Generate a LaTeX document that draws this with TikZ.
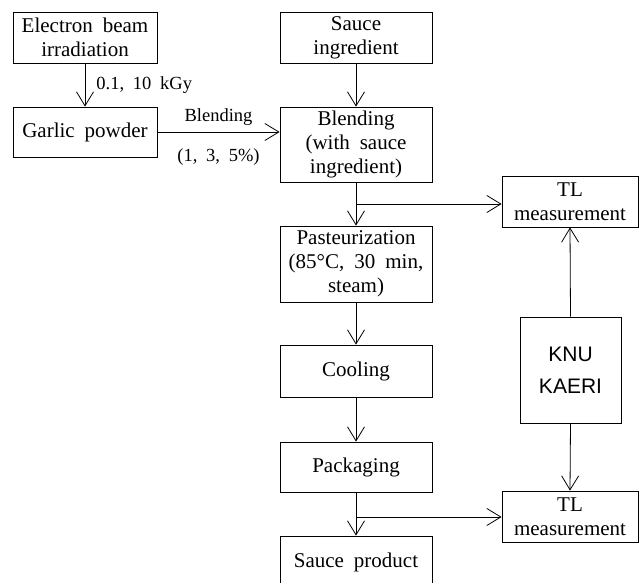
\documentclass[tikz,border=0pt]{standalone}
\usepackage{fontspec}
\setmainfont{Liberation Serif}[WordSpace=1.9]
\newfontfamily\labelsans{Liberation Sans}
\usetikzlibrary{arrows.meta}
\begin{document}
\begin{tikzpicture}[x=1pt,y=-1pt,
  box/.style={draw, line width=0.8pt, inner sep=0pt, align=center,
    font=\fontsize{21}{24}\selectfont},
  flow/.style={draw, line width=0.8pt, -{Straight Barb[length=14pt,width=17pt]}},
  lbl/.style={font=\fontsize{18.5}{20}\selectfont, inner sep=0pt}]
\useasboundingbox (0,0) rectangle (642,583);
\clip (0,0) rectangle (642,583);

% left column
\node[box, minimum width=144pt, minimum height=51pt] (elec) at (85,37.5) {Electron beam\\irradiation};
\node[box, minimum width=144pt, minimum height=50pt] (garlic) at (85,132) {Garlic powder};

% main process column
\node[box, minimum width=152pt, minimum height=51pt] (sauce) at (356,37.5) {Sauce\\ingredient};
\node[box, minimum width=152pt, minimum height=75pt] (blend) at (356,144.5) {Blending\\(with sauce\\ingredient)};
\node[box, minimum width=152pt, minimum height=76pt] (past) at (356,264) {Pasteurization\\(85°C, 30 min,\\steam)};
\node[box, minimum width=152pt, minimum height=52pt] (cool) at (356,371) {Cooling};
\node[box, minimum width=152pt, minimum height=50pt] (pack) at (356,467) {Packaging};
\node[box, minimum width=152pt, minimum height=52pt] (prod) at (356,562) {Sauce product};

% measurement column
\node[box, minimum width=136pt, minimum height=51pt] (tl1) at (570,201.5) {TL\\measurement};
\node[box, minimum width=101pt, minimum height=106pt, font=\labelsans\fontsize{21}{32}\selectfont] (knu) at (570.5,370) {KNU\\KAERI};
\node[box, minimum width=136pt, minimum height=51pt] (tl2) at (570,516.5) {TL\\measurement};

% branch points
\coordinate (b1) at (356,204);
\coordinate (b2) at (356,517);

% connectors
\draw[flow] (elec) -- node[lbl, right=11pt] {0.1, 10 kGy} (garlic);
\draw[flow] (sauce) -- (blend);
\draw[flow] (garlic.east) -- node[lbl, above=6pt] {Blending} node[lbl, below=16pt] {(1, 3, 5\%)} (garlic.east -| blend.west);
\draw[flow] (blend) -- (past);
\draw[flow] (b1) -- (b1 -| tl1.west);
\draw[flow] (past) -- (cool);
\draw[flow] (cool) -- (pack);
\draw[flow] (pack) -- (prod);
\draw[flow] (b2) -- (b2 -| tl2.west);
\draw[flow] (knu.north) -- (tl1.south);
\draw[flow] (knu.south) -- (tl2.north);
\end{tikzpicture}
\end{document}
